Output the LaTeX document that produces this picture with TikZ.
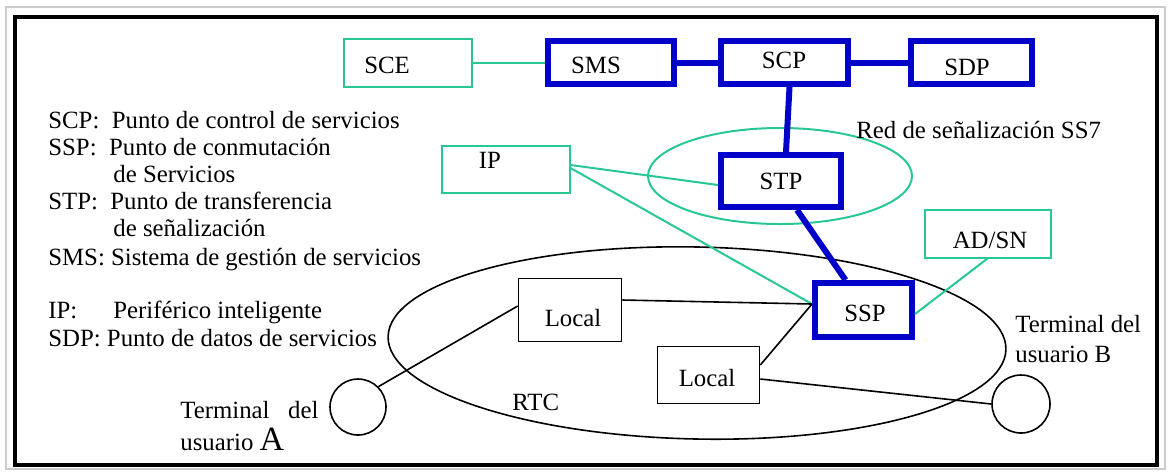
\documentclass[tikz,border=0pt]{standalone}
\usepackage{fontspec}
\setmainfont{Liberation Serif}
\definecolor{ssblue}{RGB}{0,0,200}
\definecolor{ingreen}{RGB}{40,200,150}
\begin{document}
\begin{tikzpicture}[x=0.5pt,y=-0.5pt,
  every node/.style={inner sep=0pt, font=\fontsize{12.4}{14}\selectfont},
  bluebox/.style={draw=ssblue, line width=3pt, rectangle},
  greenbox/.style={draw=ingreen, line width=1pt, rectangle},
  blackbox/.style={draw=black, line width=0.8pt, rectangle},
  blueline/.style={draw=ssblue, line width=3pt},
  greenline/.style={draw=ingreen, line width=1pt},
  blackline/.style={draw=black, line width=0.8pt},
  term/.style={draw=black, line width=0.8pt, circle},
  legend/.style={anchor=base west},
  freetext/.style={anchor=base west}]
\useasboundingbox (0,0) rectangle (1170,473);
% outer frame
\draw[gray!40, line width=0.6pt] (6,7) rectangle (1165,469);
\draw[black, line width=2pt] (15,17) rectangle (1157,465);

% signalling network ellipse and PSTN ellipse
\draw[ingreen, line width=1pt] (780,176) ellipse [x radius=132, y radius=48];
\draw[black, line width=0.8pt, rotate around={-1.2:(697,343)}] (697,343) ellipse [x radius=309, y radius=96];

% boxes
\node[greenbox, minimum width=64pt, minimum height=24pt] (SCE) at (407.5,62.5) {};
\node[bluebox, minimum width=63pt, minimum height=21.5pt] (SMS) at (611,62.5) {};
\node[bluebox, minimum width=63.5pt, minimum height=21.5pt] (SCP) at (784.5,62.5) {};
\node[bluebox, minimum width=60.5pt, minimum height=21.5pt] (SDP) at (971.5,62.5) {};
\node[bluebox, minimum width=60pt, minimum height=26pt] (STP) at (781,181) {};
\node[bluebox, minimum width=48.5pt, minimum height=27pt] (SSP) at (863.5,310) {};
\node[greenbox, minimum width=64pt, minimum height=23.5pt] (IP) at (505.5,169) {};
\node[greenbox, minimum width=63pt, minimum height=24pt] (ADSN) at (987.5,233.5) {};
\node[blackbox, minimum width=51.5pt, minimum height=31.5pt] (L1) at (570,310) {};
\node[blackbox, minimum width=51pt, minimum height=28.5pt] (L2) at (708.5,375) {};
\node[term, minimum size=28pt] (TA) at (358,407) {};
\node[term, minimum size=29pt] (TB) at (1021,404) {};

% box labels
\node (tSCE) at (387,65) {SCE};
\node (tSMS) at (596,65) {SMS};
\node (tSCP) at (784,60) {SCP};
\node (tSDP) at (967,67) {SDP};
\node (tSTP) at (781,181) {STP};
\node (tSSP) at (865,313) {SSP};
\node (tIP) at (490,160) {IP};
\node (tADSN) at (990,240) {AD/SN};
\node (tL1) at (573,318) {Local};
\node (tL2) at (707,378) {Local};

% connectors
\draw[greenline] (SCE.east) -- (SMS.west);
\draw[blueline] (SMS.east) -- (SCP.west);
\draw[blueline] (SCP.east) -- (SDP.west);
\draw[blueline] ([xshift=2.5pt]SCP.south) -- ([xshift=2.5pt]STP.north);
\draw[blueline] ([xshift=8pt]STP.south) -- ([xshift=-9pt]SSP.north);
\draw[greenline] ([yshift=2pt]IP.east) -- ([yshift=-2pt]STP.west);
\draw[greenline] ([yshift=0.5pt]IP.east) -- ([yshift=3pt]SSP.west);
\draw[greenline] (ADSN.south) -- ([yshift=-2pt]SSP.east);
\draw[blackline] ([yshift=5pt]L1.east) -- ([yshift=3pt]SSP.west);
\draw[blackline] ([yshift=5pt]L2.east) -- ([yshift=3pt]SSP.west);
\draw[blackline] ([yshift=-2pt]L2.east) -- (TB.west);
\draw[blackline] ([yshift=2pt]L1.west) -- (TA.north east);

% free labels
\node[freetext] (ss7) at (856,138) {Red de señalización SS7};
\node[freetext] (rtc) at (512,410) {RTC};
\node[freetext] (tB1) at (1015,332) {Terminal del};
\node[freetext] (tB2) at (1015,362) {usuario B};
\node[freetext] (tA1) at (180,418) {Terminal\ \ \ del};
\node[freetext] (tA2) at (180,450) {usuario {\fontsize{17}{14}\selectfont A}};

% legend
\node[legend] (lg1) at (48,128) {SCP:\ \ Punto de control de servicios};
\node[legend] (lg2) at (48,155) {SSP:\ \ Punto de conmutación};
\node[legend] (lg3) at (113,182) {de Servicios};
\node[legend] (lg4) at (48,209) {STP:\ \ Punto de transferencia};
\node[legend] (lg5) at (113,236) {de señalización};
\node[legend] (lg6) at (48,265) {SMS: Sistema de gestión de servicios};
\node[legend] (lg7) at (48,318) {IP:};
\node[legend] (lg7b) at (113,318) {Periférico inteligente};
\node[legend] (lg8) at (48,346) {SDP: Punto de datos de servicios};
\end{tikzpicture}
\end{document}
